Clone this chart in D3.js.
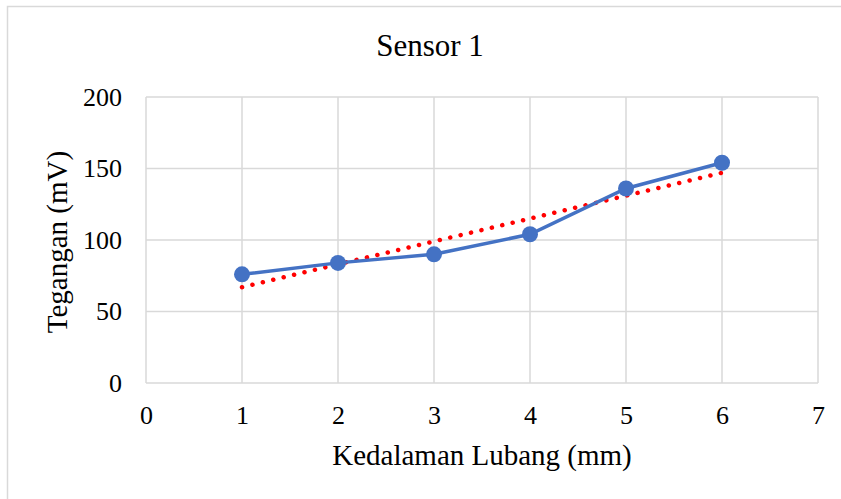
<!DOCTYPE html>
<html lang="en">
<head>
  <meta charset="UTF-8">
  <title>Sensor 1</title>
  <script src="https://d3js.org/d3.v7.min.js"></script>
  <style>
    body { margin: 0; background: #fff; }
    svg { display: block; }
    text { font-family: "Liberation Serif", serif; fill: #000; }
    .grid line { stroke: #d9d9d9; stroke-width: 1.5; }
  </style>
</head>
<body>
  <svg width="841" height="499"></svg>

  <script>
    // Data
    const depth = [1, 2, 3, 4, 5, 6];
    const voltage = [76, 84, 90, 104, 136, 154];
    // linear trendline end points (as drawn)
    const trendX = [1, 6];
    const trendY = [67, 147];
    const xTicks = [0, 1, 2, 3, 4, 5, 6, 7];
    const yTicks = [0, 50, 100, 150, 200];

    const svg = d3.select("svg");

    // outer chart border (runs off the right and bottom edge)
    svg.append("rect")
      .attr("x", 7.5).attr("y", 6.5)
      .attr("width", 900).attr("height", 600)
      .attr("fill", "none")
      .attr("stroke", "#d9d9d9")
      .attr("stroke-width", 1.5);

    const x = d3.scaleLinear().domain([0, 7]).range([146, 818]);
    const y = d3.scaleLinear().domain([0, 200]).range([383, 97]);

    // gridlines
    const grid = svg.append("g").attr("class", "grid");
    grid.selectAll(".h").data(yTicks).join("line")
      .attr("x1", x(0)).attr("x2", x(7))
      .attr("y1", d => y(d)).attr("y2", d => y(d));
    grid.selectAll(".v").data(xTicks).join("line")
      .attr("x1", d => x(d)).attr("x2", d => x(d))
      .attr("y1", y(0)).attr("y2", y(200));

    // axes (labels only, lines are the grid)
    const xAxis = svg.append("g")
      .attr("transform", `translate(0,${y(0)})`)
      .call(d3.axisBottom(x).tickValues(xTicks).tickFormat(d3.format("d"))
        .tickSize(0).tickPadding(23));
    const yAxis = svg.append("g")
      .attr("transform", `translate(${x(0) - 24},0)`)
      .call(d3.axisLeft(y).tickValues(yTicks).tickFormat(d3.format("d"))
        .tickSize(0).tickPadding(0));
    [xAxis, yAxis].forEach(a => {
      a.attr("font-family", null).attr("font-size", null);
      a.select(".domain").remove();
      a.selectAll("text")
        .style("font-family", "'Liberation Serif', serif")
        .style("font-size", "26px")
        .attr("fill", "#000");
    });

    // trendline
    const pts = trendX.map((d, i) => [d, trendY[i]]);
    svg.append("path")
      .datum(pts)
      .attr("d", d3.line().x(d => x(d[0])).y(d => y(d[1])))
      .attr("fill", "none")
      .attr("stroke", "#ff0000")
      .attr("stroke-width", 4.5)
      .attr("stroke-linecap", "round")
      .attr("stroke-dasharray", "0.1 10.6");

    // series
    const series = depth.map((d, i) => [d, voltage[i]]);
    svg.append("path")
      .datum(series)
      .attr("d", d3.line().x(d => x(d[0])).y(d => y(d[1])))
      .attr("fill", "none")
      .attr("stroke", "#4472c4")
      .attr("stroke-width", 3.5);

    svg.append("g")
      .selectAll("circle")
      .data(series)
      .join("circle")
        .attr("cx", d => x(d[0]))
        .attr("cy", d => y(d[1]))
        .attr("r", 8)
        .attr("fill", "#4472c4");

    // titles
    svg.append("text")
      .attr("x", 430).attr("y", 56)
      .attr("text-anchor", "middle")
      .style("font-size", "31px")
      .text("Sensor 1");

    svg.append("text")
      .attr("x", 482).attr("y", 465)
      .attr("text-anchor", "middle")
      .style("font-size", "29px")
      .text("Kedalaman Lubang (mm)");

    svg.append("text")
      .attr("transform", "translate(67,242) rotate(-90)")
      .attr("text-anchor", "middle")
      .style("font-size", "29px")
      .text("Tegangan (mV)");
  </script>
</body>
</html>
